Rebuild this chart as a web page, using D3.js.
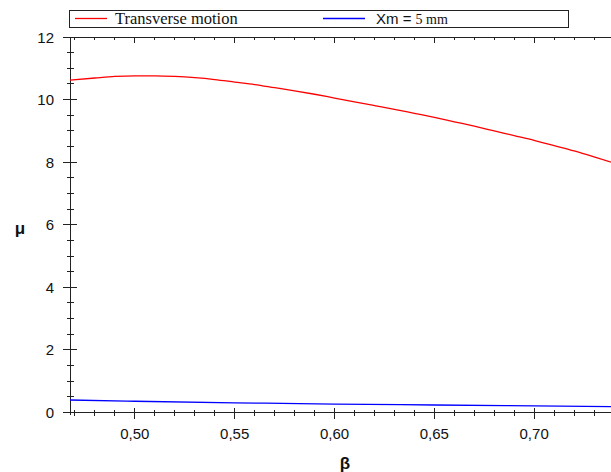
<!DOCTYPE html>
<html>
<head>
<meta charset="utf-8">
<script src="https://cdn.jsdelivr.net/npm/d3@7"></script>
<style>
  html, body { margin: 0; padding: 0; background: #fff; }
  svg { display: block; }
</style>
</head>
<body>
<div id="chart"></div>
<script>
// ---- data ----
const betaRed = [0.4675, 0.48, 0.49, 0.50, 0.51, 0.52, 0.53, 0.54, 0.55, 0.56, 0.57, 0.58, 0.59, 0.60, 0.61, 0.62, 0.63, 0.64, 0.65, 0.66, 0.67, 0.68, 0.69, 0.70, 0.71, 0.72, 0.73, 0.74];
const muTransverse = [10.62, 10.69, 10.74, 10.76, 10.76, 10.74, 10.70, 10.64, 10.56, 10.48, 10.38, 10.28, 10.17, 10.05, 9.93, 9.81, 9.69, 9.56, 9.43, 9.29, 9.15, 9.00, 8.85, 8.70, 8.53, 8.36, 8.17, 7.97];
const betaBlue = [0.4675, 0.50, 0.55, 0.60, 0.65, 0.70, 0.74];
const muXm5 = [0.40, 0.36, 0.31, 0.27, 0.24, 0.21, 0.19];
const xMajorTicks = [0.50, 0.55, 0.60, 0.65, 0.70];
const xTickLabels = ["0,50", "0,55", "0,60", "0,65", "0,70"];
const xMinorTicks = [0.47, 0.48, 0.49, 0.51, 0.52, 0.53, 0.54, 0.56, 0.57, 0.58, 0.59, 0.61, 0.62, 0.63, 0.64, 0.66, 0.67, 0.68, 0.69, 0.71, 0.72, 0.73];
const yMajorTicks = [0, 2, 4, 6, 8, 10, 12];
const yMinorTicks = [0.5, 1, 1.5, 2.5, 3, 3.5, 4.5, 5, 5.5, 6.5, 7, 7.5, 8.5, 9, 9.5, 10.5, 11, 11.5];
const seriesNames = ["Transverse motion", "Xm = 5 mm"];

// ---- layout ----
const W = 611, H = 472;
const pL = 70, pR = 611, pT = 37, pB = 412.5;
const svg = d3.select("#chart").append("svg").attr("width", W).attr("height", H);

const x = d3.scaleLinear().domain([0.4675, 0.7385]).range([pL, pR]);
const y = d3.scaleLinear().domain([0, 12]).range([pB, pT]);

const axisColor = "#222";
const g = svg.append("g").attr("shape-rendering", "crispEdges");

g.append("line").attr("x1", pL).attr("x2", pL).attr("y1", pT).attr("y2", pB + 2)
  .attr("stroke", axisColor);
g.append("line").attr("x1", pL - 7).attr("x2", pR).attr("y1", pB).attr("y2", pB)
  .attr("stroke", axisColor);
g.append("line").attr("x1", pL - 7).attr("x2", pR).attr("y1", pT).attr("y2", pT)
  .attr("stroke", axisColor);

g.selectAll(".ymaj").data(yMajorTicks).enter().append("line")
  .attr("x1", pL - 7).attr("x2", pL + 7)
  .attr("y1", d => y(d)).attr("y2", d => y(d)).attr("stroke", axisColor);
g.selectAll(".ymin").data(yMinorTicks).enter().append("line")
  .attr("x1", pL - 3.5).attr("x2", pL + 3.5)
  .attr("y1", d => y(d)).attr("y2", d => y(d)).attr("stroke", axisColor);

g.selectAll(".xmaj").data(xMajorTicks).enter().append("line")
  .attr("x1", d => x(d)).attr("x2", d => x(d))
  .attr("y1", pB - 5).attr("y2", pB + 6).attr("stroke", axisColor);
g.selectAll(".xmin").data(xMinorTicks).enter().append("line")
  .attr("x1", d => x(d)).attr("x2", d => x(d))
  .attr("y1", pB - 2.5).attr("y2", pB + 3).attr("stroke", axisColor);
g.selectAll(".xmajt").data(xMajorTicks).enter().append("line")
  .attr("x1", d => x(d)).attr("x2", d => x(d))
  .attr("y1", pT).attr("y2", pT + 6).attr("stroke", axisColor);
g.selectAll(".xmint").data(xMinorTicks).enter().append("line")
  .attr("x1", d => x(d)).attr("x2", d => x(d))
  .attr("y1", pT).attr("y2", pT + 3).attr("stroke", axisColor);

const labelFont = "'Liberation Sans', Arial, sans-serif";
svg.selectAll(".ylab").data(yMajorTicks).enter().append("text")
  .attr("x", 54).attr("y", d => y(d) + 5.5)
  .attr("text-anchor", "end")
  .attr("font-family", labelFont).attr("font-size", 15)
  .attr("fill", "#111").text(d => d);
svg.selectAll(".xlab").data(xMajorTicks).enter().append("text")
  .attr("x", d => x(d)).attr("y", 439)
  .attr("text-anchor", "middle")
  .attr("font-family", labelFont).attr("font-size", 15)
  .attr("fill", "#111").text((d, i) => xTickLabels[i]);

svg.append("text").attr("x", 20).attr("y", 234).attr("text-anchor", "middle")
  .attr("font-family", labelFont).attr("font-size", 17).attr("font-weight", "bold")
  .attr("fill", "#111").text("μ");
svg.append("text").attr("x", 345).attr("y", 469).attr("text-anchor", "middle")
  .attr("font-family", labelFont).attr("font-size", 17).attr("font-weight", "bold")
  .attr("fill", "#111").text("β");

svg.append("clipPath").attr("id", "clip").append("rect")
  .attr("x", pL).attr("y", pT).attr("width", pR - pL).attr("height", pB - pT);

const line = d3.line().curve(d3.curveMonotoneX);
svg.append("path")
  .attr("clip-path", "url(#clip)")
  .attr("d", line(betaRed.map((b, i) => [x(b), y(muTransverse[i])])))
  .attr("fill", "none").attr("stroke", "#ff0000").attr("stroke-width", 1.3);
svg.append("path")
  .attr("clip-path", "url(#clip)")
  .attr("d", line(betaBlue.map((b, i) => [x(b), y(muXm5[i])])))
  .attr("fill", "none").attr("stroke", "#0000ff").attr("stroke-width", 1.3);

const lg = svg.append("g");
lg.append("rect").attr("x", 69.5).attr("y", 10.5).attr("width", 499).attr("height", 17)
  .attr("fill", "#fff").attr("stroke", axisColor).attr("shape-rendering", "crispEdges");
lg.append("line").attr("x1", 75).attr("x2", 107).attr("y1", 18.5).attr("y2", 18.5)
  .attr("stroke", "#ff0000").attr("stroke-width", 1.3);
lg.append("text").attr("x", 115).attr("y", 24)
  .attr("font-family", "'Liberation Serif', 'Times New Roman', serif").attr("font-size", 16.5)
  .attr("fill", "#111").text(seriesNames[0]);
lg.append("line").attr("x1", 323).attr("x2", 365).attr("y1", 18.5).attr("y2", 18.5)
  .attr("stroke", "#0000ff").attr("stroke-width", 1.3);
const t2 = lg.append("text").attr("x", 376).attr("y", 24).attr("fill", "#111");
t2.append("tspan").attr("font-family", labelFont).attr("font-size", 15).text("Xm = ");
t2.append("tspan").attr("font-family", "'Liberation Serif', 'Times New Roman', serif").attr("font-size", 14).text("5 mm");
</script>
</body>
</html>
